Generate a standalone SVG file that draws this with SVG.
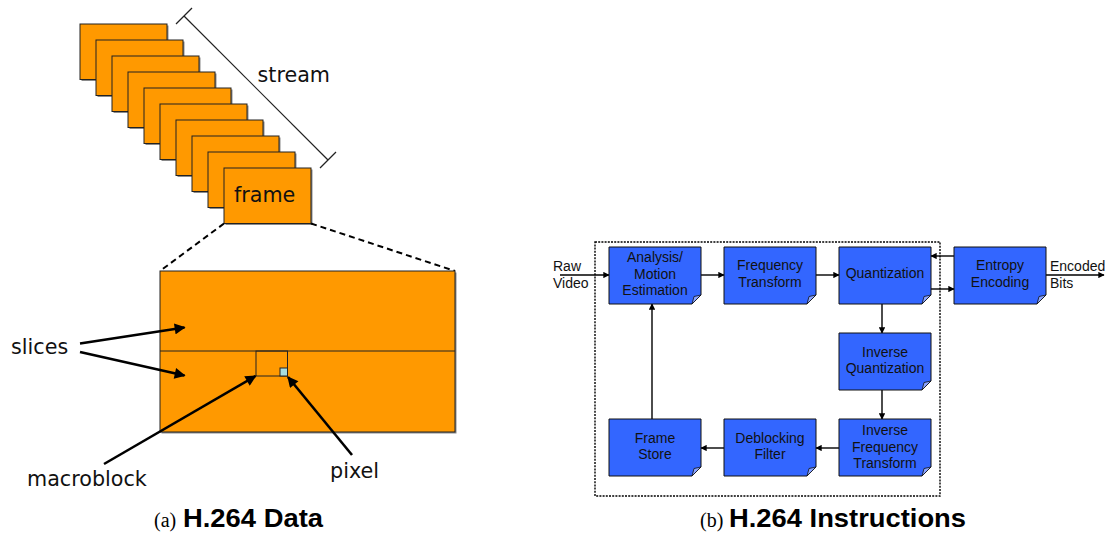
<svg xmlns="http://www.w3.org/2000/svg" width="1108" height="536" viewBox="0 0 1108 536">
  <style>
    .frame { fill: #FF9900; stroke: #222; stroke-width: 1; }
    .shadow { fill: #8a8a8a; }
    .lbl { font-family: "DejaVu Sans", Verdana, sans-serif; font-size: 20.7px; fill: #111; }
    .blk { fill: #3366FF; stroke: #111; stroke-width: 1; }
    .fold { fill: #8aa4ff; stroke: #111; stroke-width: 0.8; }
    .btxt { font-family: "Liberation Sans", Arial, sans-serif; font-size: 14px; fill: #111; text-anchor: middle; }
    .otxt { font-family: "Liberation Sans", Arial, sans-serif; font-size: 14px; fill: #111; }
    .ptr { stroke: #000; stroke-width: 2.6; fill: none; marker-end: url(#bigHead); }
    .flow { stroke: #000; stroke-width: 1.4; fill: none; marker-end: url(#smallHead); }
    .cap1 { font-family: "Liberation Serif", "Times New Roman", serif; font-size: 20px; fill: #000; }
    .cap2 { font-family: "Liberation Sans", Arial, sans-serif; font-size: 25px; font-weight: bold; fill: #000; }
  </style>
  <defs>
    <marker id="bigHead" viewBox="0 0 10 10" refX="9" refY="5" markerWidth="5" markerHeight="4.2" orient="auto" markerUnits="strokeWidth">
      <path d="M0,0 L10,5 L0,10 z" fill="#000"/>
    </marker>
    <marker id="smallHead" viewBox="0 0 10 10" refX="9" refY="5" markerWidth="5" markerHeight="4.5" orient="auto" markerUnits="strokeWidth">
      <path d="M0,0 L10,5 L0,10 z" fill="#000"/>
    </marker>
    <!-- one stream frame with its drop shadow -->
    <g id="frm">
      <rect class="shadow" x="1.5" y="1.5" width="87" height="55.5"/>
      <rect class="frame" x="0" y="0" width="87" height="55.5"/>
    </g>
    <!-- processing block: note shape with folded bottom-right corner -->
    <g id="blk">
      <path class="blk" d="M0,0 H92 V48 L83,57 H0 Z"/>
      <path class="fold" d="M92,48 L83,57 L85,49.5 Z"/>
    </g>
  </defs>

  <!-- left panel: H.264 data hierarchy -->
  <g id="stream-frames">
    <use href="#frm" x="80" y="24"/>
    <use href="#frm" x="96" y="40"/>
    <use href="#frm" x="112" y="56"/>
    <use href="#frm" x="128" y="72"/>
    <use href="#frm" x="144" y="88"/>
    <use href="#frm" x="160" y="104"/>
    <use href="#frm" x="176" y="120"/>
    <use href="#frm" x="192" y="136"/>
    <use href="#frm" x="208" y="152"/>
    <use href="#frm" x="224" y="168"/>
    <text class="lbl" x="234" y="201.5">frame</text>
  </g>

  <g id="stream-bracket" stroke="#222" stroke-width="1.2">
    <line x1="184" y1="16" x2="328" y2="160"/>
    <line x1="176" y1="24" x2="192" y2="8"/>
    <line x1="320" y1="168" x2="336" y2="152"/>
  </g>
  <text class="lbl" x="257.5" y="81.5">stream</text>

  <g id="zoom-lines" stroke="#000" stroke-width="2" stroke-dasharray="6,4">
    <line x1="224" y1="223.5" x2="160" y2="271"/>
    <line x1="311" y1="223.5" x2="455" y2="271"/>
  </g>

  <g id="frame-detail">
    <rect class="shadow" x="161.5" y="272.5" width="295" height="161"/>
    <rect class="frame" x="160" y="271" width="295" height="161"/>
    <line x1="160" y1="351" x2="455" y2="351" stroke="#222" stroke-width="1"/>
    <rect id="macroblock" x="256" y="351" width="31.5" height="25" fill="none" stroke="#222" stroke-width="1"/>
    <rect id="pixel" x="280" y="368" width="7.5" height="8" fill="#a8dde0" stroke="#222" stroke-width="1"/>
  </g>

  <g id="data-labels">
    <text class="lbl" x="11" y="353.5">slices</text>
    <text class="lbl" x="27" y="485.5">macroblock</text>
    <text class="lbl" x="330" y="478">pixel</text>
  </g>

  <g id="data-pointers">
    <line class="ptr" x1="80" y1="343.5" x2="184.5" y2="327.5"/>
    <line class="ptr" x1="80" y1="352" x2="184.5" y2="375.5"/>
    <line class="ptr" x1="104" y1="464" x2="255.5" y2="376"/>
    <line class="ptr" x1="352" y1="455" x2="288" y2="377"/>
  </g>

  <!-- right panel: H.264 encoder pipeline -->
  <rect id="core-boundary" x="595" y="242" width="345" height="254" fill="none" stroke="#000" stroke-width="1.4" stroke-dasharray="2,1.2"/>

  <g id="connectors">
    <line class="flow" x1="560" y1="275" x2="609" y2="275"/>
    <line class="flow" x1="701" y1="275" x2="724" y2="275"/>
    <line class="flow" x1="816" y1="275" x2="839" y2="275"/>
    <line class="flow" x1="954" y1="256" x2="931" y2="256"/>
    <line class="flow" x1="931" y1="289" x2="954" y2="289" stroke-width="2"/>
    <line class="flow" x1="1046" y1="275" x2="1104" y2="275"/>
    <line class="flow" x1="882" y1="304" x2="882" y2="333"/>
    <line class="flow" x1="882" y1="390" x2="882" y2="419"/>
    <line class="flow" x1="839" y1="448" x2="816" y2="448"/>
    <line class="flow" x1="724" y1="448" x2="701" y2="448"/>
    <line class="flow" x1="652" y1="419" x2="652" y2="304"/>
  </g>

  <g id="analysis">
    <use href="#blk" x="609" y="247"/>
    <text class="btxt" x="655" y="262">Analysis/</text>
    <text class="btxt" x="655" y="278.5">Motion</text>
    <text class="btxt" x="655" y="295">Estimation</text>
  </g>
  <g id="freq-transform">
    <use href="#blk" x="724" y="247"/>
    <text class="btxt" x="770" y="270">Frequency</text>
    <text class="btxt" x="770" y="286.5">Transform</text>
  </g>
  <g id="quantization">
    <use href="#blk" x="839" y="247"/>
    <text class="btxt" x="885" y="278">Quantization</text>
  </g>
  <g id="entropy">
    <use href="#blk" x="954" y="247"/>
    <text class="btxt" x="1000" y="270">Entropy</text>
    <text class="btxt" x="1000" y="286.5">Encoding</text>
  </g>
  <g id="inv-quant">
    <use href="#blk" x="839" y="333"/>
    <text class="btxt" x="885" y="356.5">Inverse</text>
    <text class="btxt" x="885" y="373">Quantization</text>
  </g>
  <g id="inv-freq">
    <use href="#blk" x="839" y="419"/>
    <text class="btxt" x="885" y="435">Inverse</text>
    <text class="btxt" x="885" y="451.5">Frequency</text>
    <text class="btxt" x="885" y="468">Transform</text>
  </g>
  <g id="deblocking">
    <use href="#blk" x="724" y="419"/>
    <text class="btxt" x="770" y="442.5">Deblocking</text>
    <text class="btxt" x="770" y="459">Filter</text>
  </g>
  <g id="frame-store">
    <use href="#blk" x="609" y="419"/>
    <text class="btxt" x="655" y="442.5">Frame</text>
    <text class="btxt" x="655" y="459">Store</text>
  </g>

  <g id="io-labels">
    <text class="otxt" x="553" y="271">Raw</text>
    <text class="otxt" x="553" y="288">Video</text>
    <text class="otxt" x="1050" y="271">Encoded</text>
    <text class="otxt" x="1050" y="288">Bits</text>
  </g>

  <g id="captions">
    <text class="cap1" x="154" y="527">(a)</text>
    <text class="cap2" x="183" y="527" textLength="140" lengthAdjust="spacingAndGlyphs">H.264 Data</text>
    <text class="cap1" x="700" y="527">(b)</text>
    <text class="cap2" x="729" y="527" textLength="237" lengthAdjust="spacingAndGlyphs">H.264 Instructions</text>
  </g>
</svg>
